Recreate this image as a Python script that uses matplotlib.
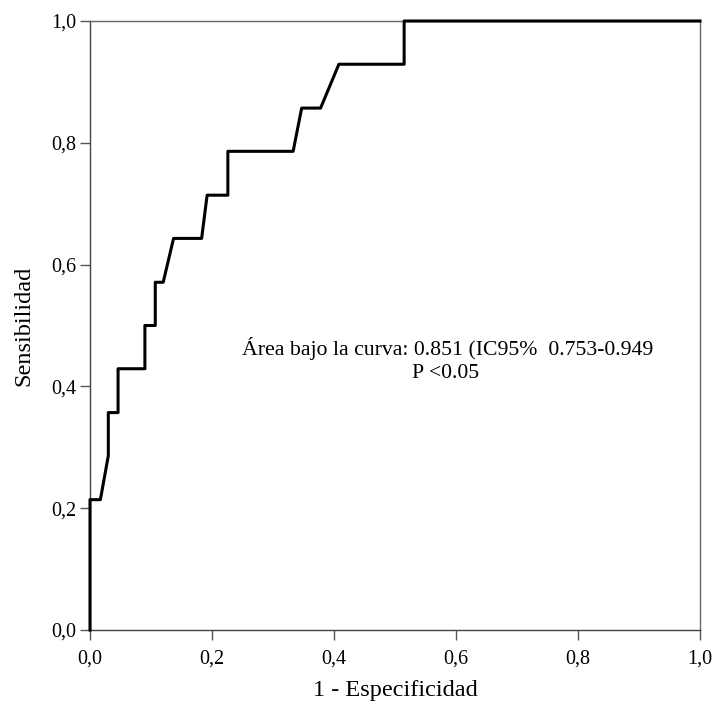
#%% ROC curve - Área bajo la curva
import matplotlib
matplotlib.use('Agg')
import matplotlib.pyplot as plt

plt.rcParams['font.family'] = ['Liberation Serif', 'DejaVu Serif']

# 1 - especificidad / sensibilidad
fpr = [0.0, 0.0, 0.017, 0.030, 0.030, 0.046, 0.046, 0.090, 0.090, 0.107, 0.107, 0.120,
       0.137, 0.183, 0.192, 0.226, 0.226, 0.333, 0.347, 0.378, 0.408, 0.515, 0.515, 1.0]
tpr = [0.0, 0.214, 0.214, 0.286, 0.357, 0.357, 0.429, 0.429, 0.500, 0.500, 0.571, 0.571,
       0.643, 0.643, 0.714, 0.714, 0.786, 0.786, 0.857, 0.857, 0.929, 0.929, 1.0, 1.0]

tick_vals = [0.0, 0.2, 0.4, 0.6, 0.8, 1.0]
tick_labels = ['0,0', '0,2', '0,4', '0,6', '0,8', '1,0']

fig = plt.figure(figsize=(7.18, 7.11), dpi=100)
ax = fig.add_axes([90 / 718, 81 / 711, 610 / 718, 609 / 711])

ax.plot(fpr, tpr, color='black', linewidth=2.2, clip_on=False, zorder=5)

ax.set_xlim(0, 1)
ax.set_ylim(0, 1)
ax.set_xticks(tick_vals)
ax.set_xticklabels(tick_labels)
ax.set_yticks(tick_vals)
ax.set_yticklabels(tick_labels)
ax.tick_params(axis='both', direction='out', length=7, width=1, color='#555555',
               labelsize=14.5, pad=3)
ax.tick_params(axis='x', pad=7)

for s in ax.spines.values():
    s.set_color('#666666')
    s.set_linewidth(1.0)
ax.spines['left'].set_color('#444444')
ax.spines['bottom'].set_color('#444444')

ax.set_xlabel('1 - Especificidad', fontsize=17.5, labelpad=8)
ax.set_ylabel('Sensibilidad', fontsize=17.5, labelpad=12)

ax.text(0.249, 0.462, 'Área bajo la curva: 0.851 (IC95%  0.753-0.949',
        fontsize=15.7, ha='left', va='center')
ax.text(0.528, 0.422, 'P <0.05', fontsize=15.7, ha='left', va='center')

plt.savefig('out.png', dpi=100)
